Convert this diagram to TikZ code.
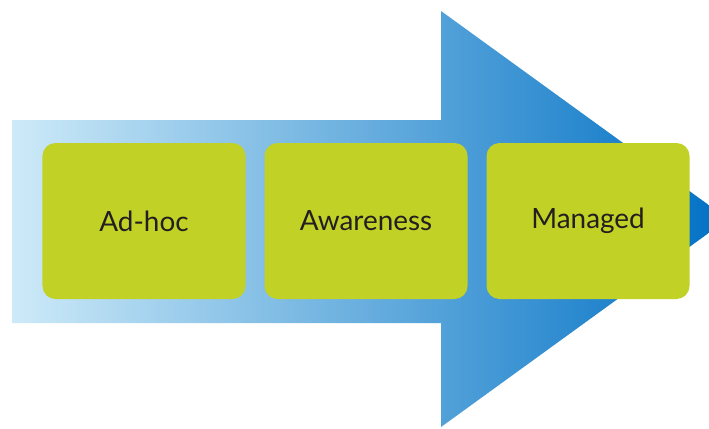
\documentclass[tikz,border=0pt]{standalone}
\usepackage{fontspec}
\setmainfont{Lato}
\usetikzlibrary{positioning}
\definecolor{lime}{RGB}{193,209,38}
\definecolor{ink}{RGB}{35,31,32}
\definecolor{pale}{RGB}{205,234,248}
\definecolor{midblue}{RGB}{106,166,216}
\definecolor{deepblue}{RGB}{0,112,196}

\begin{document}
\begin{tikzpicture}[x=1bp,y=1bp,node distance=222bp,on grid,
		stage/.style={rectangle,rounded corners=13bp,fill=lime,text=ink,
			minimum width=203bp,minimum height=156bp,inner sep=0pt,
			font=\fontsize{28}{32}\selectfont}]
		\useasboundingbox (0,0) rectangle (709,428);
		\clip (0,0) rectangle (709,428);
		
		% big arrow behind the stages
		\shade[left color=pale,middle color=midblue,right color=deepblue]
		(12,105) -- (12,308) -- (441,308) -- (441,417) -- (728,209)
		-- (441,1) -- (441,105) -- cycle;
		
		\node[stage]  (adhoc)                       at (144,207) {Ad-hoc};
		\node[stage]  (awareness) [right=of adhoc]     {Awareness};
		\node[stage]  (managed)   [right=of awareness] {Managed};
		\end{tikzpicture}
\end{document}
